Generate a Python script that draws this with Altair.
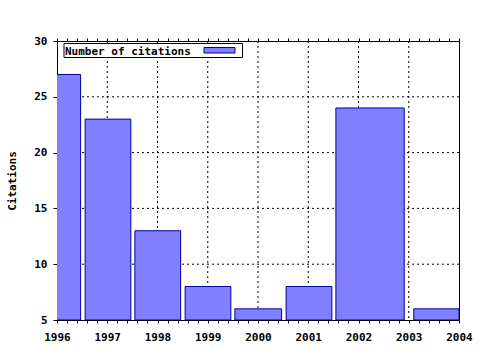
import altair as alt
import pandas as pd

# ---- data ----
years = [1996, 1997, 1998, 1999, 2000, 2001, 2002, 2003]
citations = [27, 23, 13, 8, 6, 8, 24, 6]
bar_start = [1995.55, 1996.56, 1997.55, 1998.55, 1999.54, 2000.56, 2001.55, 2003.10]
bar_end = [1996.47, 1997.47, 1998.46, 1999.46, 2000.47, 2001.47, 2002.91, 2004.00]

x_major = [1996, 1997, 1998, 1999, 2000, 2001, 2002, 2003, 2004]
x_minor = [round(1996 + i * 0.2, 1) for i in range(41)]
y_major = [5, 10, 15, 20, 25, 30]
x_grid = x_major[1:-1]
y_grid = y_major[1:-1]

FONT = "DejaVu Sans Mono"
FILL = "#8080ff"
EDGE = "#0000a0"

bars_df = pd.DataFrame({"year": years, "citations": citations,
                        "x0": bar_start, "x1": bar_end})
xgrid_df = pd.DataFrame({"x": x_grid})
ygrid_df = pd.DataFrame({"y": y_grid})

xscale = alt.Scale(domain=[1996, 2004], nice=False, zero=False)
yscale = alt.Scale(domain=[5, 30], nice=False, zero=False)

y_axis = alt.Axis(values=y_major, tickSize=4, labelPadding=6,
                  domain=False, grid=False, title="Citations",
                  labelFont=FONT, labelFontSize=11, labelFontWeight="bold",
                  labelColor="black", tickColor="black",
                  titleFont=FONT, titleFontSize=11, titleFontWeight="bold",
                  titleColor="black", titlePadding=16)

vgrid = alt.Chart(xgrid_df).mark_rule(
    color="black", strokeDash=[2, 3], strokeWidth=1
).encode(
    x=alt.X("x:Q", scale=xscale,
            axis=alt.Axis(orient="top", values=x_minor, labels=False,
                          tickSize=3, domain=False, grid=False, title=None,
                          tickColor="black"))
)

hgrid = alt.Chart(ygrid_df).mark_rule(
    color="black", strokeDash=[2, 3], strokeWidth=1
).encode(
    y=alt.Y("y:Q", scale=yscale, axis=y_axis)
)

bars = alt.Chart(bars_df).mark_rect(
    fill=FILL, stroke=EDGE, strokeWidth=1, clip=True
).encode(
    x=alt.X("x0:Q", scale=xscale,
            axis=alt.Axis(orient="bottom", values=x_minor, tickSize=3,
                          labelExpr="abs(datum.value - round(datum.value)) < 0.01 ? format(datum.value, 'd') : ''",
                          labelPadding=8, domain=False, grid=False, title=None,
                          labelFont=FONT, labelFontSize=11, labelFontWeight="bold",
                          labelColor="black", tickColor="black",
                          labelOverlap=False, labelFlush=False)),
    x2="x1:Q",
    y=alt.Y("citations:Q", scale=yscale, axis=y_axis),
    y2=alt.datum(5),
)

legend_box = alt.Chart(bars_df).mark_rect(
    fill="white", stroke="black", strokeWidth=1
).encode(
    x=alt.value(7), x2=alt.value(185.5), y=alt.value(2.5), y2=alt.value(16.5)
).transform_filter("datum.year == 1996")

legend_text = alt.Chart(bars_df).mark_text(
    text="Number of citations", font=FONT, fontSize=11, fontWeight="bold",
    align="left", baseline="alphabetic", color="black"
).encode(
    x=alt.value(8), y=alt.value(14)
).transform_filter("datum.year == 1996")

legend_swatch = alt.Chart(bars_df).mark_rect(
    fill=FILL, stroke=EDGE, strokeWidth=1
).encode(
    x=alt.value(147), x2=alt.value(178), y=alt.value(6.5), y2=alt.value(12)
).transform_filter("datum.year == 1996")

chart = alt.layer(
    vgrid, hgrid, bars, legend_box, legend_text, legend_swatch
).properties(
    width=402, height=279,
    autosize=alt.AutoSizeParams(type="none"),
    padding={"left": 57, "top": 41, "right": 21, "bottom": 30},
    background="white",
).configure_view(
    stroke="black", strokeWidth=1
)

chart.save("out.html", embed_options={"renderer": "svg", "actions": False})
